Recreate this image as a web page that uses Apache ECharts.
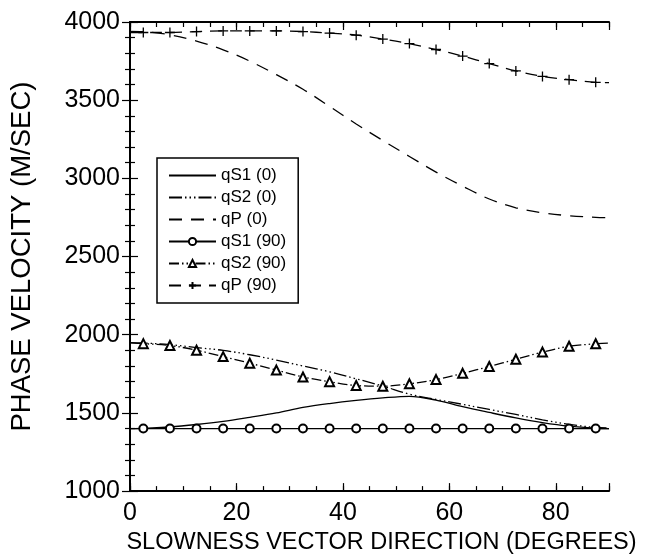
<!DOCTYPE html>
<html>
<head>
<meta charset="utf-8">
<script src="https://cdn.jsdelivr.net/npm/echarts@6/dist/echarts.min.js"></script>
<style>
  html, body { margin: 0; padding: 0; background: #fff; }
  #chart { width: 647px; height: 560px; }
</style>
</head>
<body>
<div id="chart"></div>
<script>
// Slowness vector direction (degrees): curve points (markers at 2.5 + 5k)
const angles = [0, 2.5, 7.5, 12.5, 17.5, 22.5, 27.5, 32.5, 37.5, 42.5, 47.5, 52.5, 57.5, 62.5, 67.5, 72.5, 77.5, 82.5, 87.5, 90];

// Phase velocities (m/sec)
const qS1_0  = [1400, 1401, 1410, 1426, 1446, 1472, 1500, 1535, 1560, 1580, 1596, 1606, 1582, 1540, 1503, 1468, 1438, 1415, 1402, 1400];
const qS2_0  = [1950, 1947, 1937, 1918, 1900, 1872, 1838, 1800, 1763, 1718, 1672, 1620, 1586, 1555, 1522, 1490, 1456, 1427, 1407, 1403];
const qP_0   = [3940, 3938, 3918, 3878, 3822, 3750, 3663, 3570, 3460, 3348, 3242, 3140, 3040, 2950, 2868, 2812, 2780, 2761, 2751, 2749];
const qS1_90 = [1400, 1400, 1400, 1400, 1400, 1400, 1400, 1400, 1400, 1400, 1400, 1400, 1400, 1400, 1400, 1400, 1400, 1400, 1400, 1400];
const qS2_90 = [1948, 1943, 1931, 1901, 1860, 1818, 1774, 1730, 1700, 1675, 1671, 1686, 1713, 1753, 1797, 1843, 1889, 1926, 1942, 1946];
const qP_90  = [3932, 3933, 3933, 3939, 3943, 3943, 3943, 3939, 3929, 3916, 3891, 3862, 3824, 3782, 3734, 3687, 3652, 3631, 3614, 3612];

const seriesNames = ['qS1 (0)', 'qS2 (0)', 'qP (0)', 'qS1 (90)', 'qS2 (90)', 'qP (90)'];
const xTickLabels = ['0', '20', '40', '60', '80'];
const yTickLabels = ['1000', '1500', '2000', '2500', '3000', '3500', '4000'];

const FONT = '"Liberation Sans", Arial, Helvetica, sans-serif';
const PLUS = 'path://M0,5 L10,5 M5,0 L5,10';

function pts(vals, withMarkers) {
  return angles.map((a, i) => {
    const item = { value: [a, vals[i]] };
    if (withMarkers && (i === 0 || i === angles.length - 1)) item.symbol = 'none';
    return item;
  });
}

function mkSeries(name, vals, dash, symbol, symbolSize) {
  const s = {
    name: name,
    type: 'line',
    xAxisIndex: 0,
    yAxisIndex: 0,
    smooth: 0.35,
    data: pts(vals, !!symbol),
    lineStyle: { color: '#000', width: 1.3, type: dash },
    itemStyle: { color: '#000', borderColor: '#000', borderWidth: 1.1 },
    symbol: symbol || 'none',
    symbolSize: symbolSize || 8,
    showSymbol: !!symbol,
    emphasis: { disabled: true },
    z: 3
  };
  if (symbol === PLUS) {
    s.itemStyle = { color: 'none', borderColor: '#000', borderWidth: 1.3 };
  }
  return s;
}

const hiddenIcon = { color: 'rgba(0,0,0,0)', borderColor: 'rgba(0,0,0,0)', borderWidth: 0 };
const legendData = seriesNames.map((n, i) => (i < 3 ? { name: n, itemStyle: hiddenIcon } : { name: n }));

const axisCommon = {
  type: 'value',
  min: 0, max: 90,
  axisLine: { show: true, lineStyle: { color: '#000', width: 2 } },
  splitLine: { show: false },
  axisTick: { show: true, inside: true, length: 8, lineStyle: { color: '#000', width: 1.2 } }
};

const chart = echarts.init(document.getElementById('chart'), null, { renderer: 'canvas' });

const option = {
  animation: false,
  backgroundColor: '#fff',
  grid: { left: 129, top: 22, width: 480, height: 477, show: false },
  legend: {
    orient: 'vertical',
    left: 157, top: 158,
    data: legendData,
    itemWidth: 47, itemHeight: 9, itemGap: 5,
    padding: [9, 12, 9, 11],
    borderColor: '#000', borderWidth: 1.5,
    backgroundColor: '#fff',
    textStyle: { color: '#000', fontSize: 17, lineHeight: 17, fontFamily: FONT },
    selectedMode: false
  },
  xAxis: [
    Object.assign({}, axisCommon, {
      position: 'bottom', interval: 20,
      name: 'SLOWNESS VECTOR DIRECTION (DEGREES)',
      nameLocation: 'middle', nameGap: 35,
      nameTextStyle: { color: '#000', fontSize: 23.5, fontFamily: FONT, padding: [0, 0, 0, 24] },
      axisLabel: {
        show: true, margin: 10, color: '#000', fontSize: 25, fontFamily: FONT,
        formatter: v => { const i = xTickLabels.indexOf(String(v)); return i >= 0 ? xTickLabels[i] : ''; }
      }
    }),
    Object.assign({}, axisCommon, {
      position: 'bottom', interval: 5,
      axisLine: { show: false },
      axisTick: { show: true, inside: true, length: 5, lineStyle: { color: '#000', width: 1.2 } },
      axisLabel: { show: false }
    }),
    Object.assign({}, axisCommon, {
      position: 'top', interval: 20,
      axisLabel: { show: false }
    }),
    Object.assign({}, axisCommon, {
      position: 'top', interval: 5,
      axisLine: { show: false },
      axisTick: { show: true, inside: true, length: 5, lineStyle: { color: '#000', width: 1.2 } },
      axisLabel: { show: false }
    })
  ],
  yAxis: [
    {
      type: 'value', min: 1000, max: 4000, interval: 500, position: 'left',
      name: 'PHASE VELOCITY (M/SEC)', nameLocation: 'middle', nameGap: 94,
      nameTextStyle: { color: '#000', fontSize: 27.5, fontFamily: FONT, padding: [0, 0, 0, 0] },
      axisLine: { show: true, lineStyle: { color: '#000', width: 2 } },
      splitLine: { show: false },
      axisTick: { show: true, inside: true, length: 8, lineStyle: { color: '#000', width: 1.2 } },
      minorTick: { show: true, splitNumber: 5, length: 5, lineStyle: { color: '#000', width: 1.2 } },
      axisLabel: {
        show: true, margin: 10, color: '#000', fontSize: 25, fontFamily: FONT,
        formatter: v => { const i = yTickLabels.indexOf(String(v)); return i >= 0 ? yTickLabels[i] : ''; }
      }
    },
    {
      type: 'value', min: 1000, max: 4000, interval: 500, position: 'right',
      axisLine: { show: true, lineStyle: { color: '#000', width: 2 } },
      splitLine: { show: false },
      axisTick: { show: true, inside: true, length: 8, lineStyle: { color: '#000', width: 1.2 } },
      minorTick: { show: true, splitNumber: 5, length: 5, lineStyle: { color: '#000', width: 1.2 } },
      axisLabel: { show: false }
    }
  ],
  series: [
    mkSeries(seriesNames[0], qS1_0, 'solid'),
    mkSeries(seriesNames[1], qS2_0, [13, 3, 1.5, 3, 1.5, 3, 1.5, 3]),
    mkSeries(seriesNames[2], qP_0, [13, 9]),
    mkSeries(seriesNames[3], qS1_90, 'solid', 'emptyCircle', 8),
    mkSeries(seriesNames[4], qS2_90, [10, 3, 1.5, 3, 1.5, 3, 1.5, 3], 'emptyTriangle', 9),
    mkSeries(seriesNames[5], qP_90, [12, 8], PLUS, 10)
  ]
};

chart.setOption(option);
</script>
</body>
</html>
